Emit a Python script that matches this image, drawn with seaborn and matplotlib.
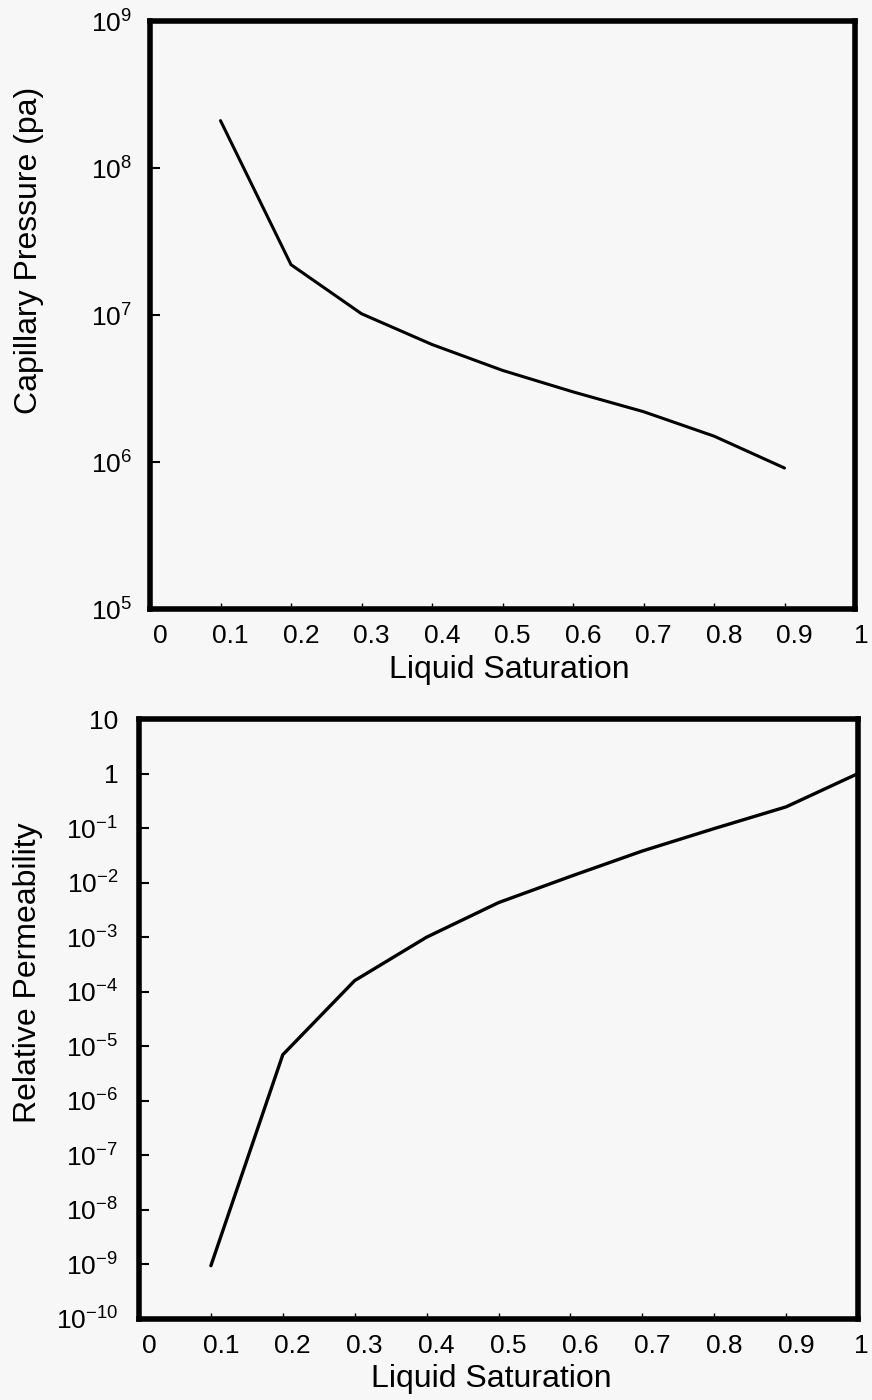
import numpy as np
import pandas as pd
import matplotlib
matplotlib.use("Agg")
import matplotlib.pyplot as plt
import matplotlib.transforms as mtransforms
import seaborn as sns

# ---- data ----
saturation_pc = [0.1, 0.2, 0.3, 0.4, 0.5, 0.6, 0.7, 0.8, 0.9]
capillary_pressure = [2.1e8, 2.2e7, 1.02e7, 6.3e6, 4.2e6, 3.0e6, 2.2e6, 1.5e6, 9.1e5]

saturation_kr = [0.1, 0.2, 0.3, 0.4, 0.5, 0.6, 0.7, 0.8, 0.9, 1.0]
relative_perm = [9.5e-10, 7.0e-6, 1.6e-4, 1.0e-3, 4.3e-3, 1.3e-2, 3.8e-2, 9.8e-2, 2.45e-1, 1.0]

x_ticks = [0, 0.1, 0.2, 0.3, 0.4, 0.5, 0.6, 0.7, 0.8, 0.9, 1.0]
x_ticklabels = ["0", "0.1", "0.2", "0.3", "0.4", "0.5", "0.6", "0.7", "0.8", "0.9", "1"]
pc_yticks = [1e5, 1e6, 1e7, 1e8, 1e9]
pc_yticklabels = [r"$\mathregular{10^{5}}$", r"$\mathregular{10^{6}}$", r"$\mathregular{10^{7}}$",
                  r"$\mathregular{10^{8}}$", r"$\mathregular{10^{9}}$"]
kr_exponents = [-10, -9, -8, -7, -6, -5, -4, -3, -2, -1, 0, 1]
kr_yticklabels = ([r"$\mathregular{10^{%d}}$" % e for e in kr_exponents[:-2]] + ["1", "10"])

xlabel = "Liquid Saturation"
pc_ylabel = "Capillary Pressure (pa)"
kr_ylabel = "Relative Permeability"

df_pc = pd.DataFrame({"s": saturation_pc, "pc": capillary_pressure})
df_kr = pd.DataFrame({"s": saturation_kr, "kr": relative_perm})

# ---- style ----
sns.set_theme(style="ticks")
plt.rcParams["font.family"] = ["Liberation Sans", "DejaVu Sans"]
plt.rcParams["mathtext.fontset"] = "custom"
plt.rcParams["mathtext.rm"] = "Liberation Sans"
bg = "#f7f7f7"

fig = plt.figure(figsize=(8.72, 14), dpi=100, facecolor=bg)
ax1 = fig.add_axes([150 / 872, 1 - 609 / 1400, 705 / 872, 588 / 1400])
ax2 = fig.add_axes([139 / 872, 1 - 1319 / 1400, 719 / 872, 600 / 1400])

sns.lineplot(data=df_pc, x="s", y="pc", ax=ax1, color="black", linewidth=2.2)
sns.lineplot(data=df_kr, x="s", y="kr", ax=ax2, color="black", linewidth=2.4)

for ax, yt, ytl, ylim, ylab, ypad, last_shift in [
    (ax1, pc_yticks, pc_yticklabels, (1e5, 1e9), pc_ylabel, 13, 6),
    (ax2, [10.0 ** e for e in kr_exponents], kr_yticklabels, (1e-10, 10), kr_ylabel, 15, 3),
]:
    ax.set_facecolor(bg)
    ax.set_yscale("log")
    ax.set_xlim(0, 1)
    ax.set_ylim(*ylim)
    ax.set_xticks(x_ticks)
    ax.set_xticklabels(x_ticklabels)
    ax.set_yticks(yt)
    ax.set_yticklabels(ytl)
    ax.yaxis.set_minor_locator(matplotlib.ticker.NullLocator())
    for sp in ax.spines.values():
        sp.set_visible(True)
        sp.set_linewidth(4)
        sp.set_color("black")
    ax.tick_params(axis="x", direction="in", length=4, width=1, pad=11,
                   labelsize=19, colors="black", top=False)
    ax.tick_params(axis="y", direction="in", length=7, width=1.5, pad=ypad,
                   labelsize=19, colors="black", right=False)
    labs = ax.get_xticklabels()
    for i, lab in enumerate(labs):
        shift = last_shift if i == len(labs) - 1 else 10
        offset = mtransforms.ScaledTranslation(shift / 100, 0, fig.dpi_scale_trans)
        lab.set_transform(lab.get_transform() + offset)
    ax.set_xlabel(xlabel, fontsize=23, color="black")
    ax.set_ylabel(ylab, fontsize=23, color="black")
    ax.grid(False)

ax1.xaxis.set_label_coords(0.51, -0.078)
ax1.yaxis.set_label_coords(-0.150, 0.61)
ax2.xaxis.set_label_coords(0.49, -0.075)
ax2.yaxis.set_label_coords(-0.134, 0.577)

fig.savefig("out.png", dpi=100, facecolor=bg)
